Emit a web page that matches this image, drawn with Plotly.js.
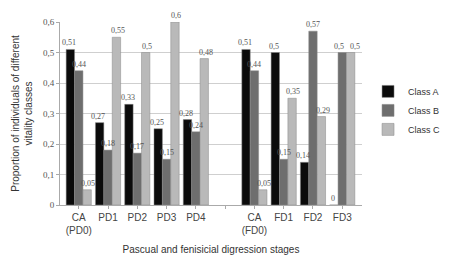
<!DOCTYPE html>
<html><head><meta charset="utf-8">
<script src="https://cdn.plot.ly/plotly-3.0.1.min.js"></script>
<style>html,body{margin:0;padding:0;background:#fff;}#chart{width:458px;height:261px;}</style>
</head><body><div id="chart"></div>
<script>
const categories = ["CA<br>(PD0)", "PD1", "PD2", "PD3", "PD4", " ", "CA<br>(FD0)", "FD1", "FD2", "FD3"];
const classA = [0.51, 0.27, 0.33, 0.25, 0.28, null, 0.51, 0.50, 0.14, 0.00];
const classB = [0.44, 0.18, 0.17, 0.15, 0.24, null, 0.44, 0.15, 0.57, 0.50];
const classC = [0.05, 0.55, 0.50, 0.60, 0.48, null, 0.05, 0.35, 0.29, 0.50];
const seriesNames = ["Class A", "Class B", "Class C"];
const colors = ["#0b0b0b", "#6e6e6e", "#b9b9b9"];

const W = 458, H = 261, ML = 60, MR = 58, BARGAP = 0.14;
const series = [classA, classB, classC];

const traces = series.map((vals, i) => ({
  type: 'bar', name: seriesNames[i], x: categories, y: vals,
  marker: {color: colors[i], line: {color: '#888', width: 0.5}}
}));

// data labels as annotations placed via the axes' own scales
const slot = (W - ML - MR) / categories.length;
const barW = slot * (1 - BARGAP) / 3;
const annotations = [];
series.forEach((vals, i) => {
  vals.forEach((v, j) => {
    if (v === null) return;
    let shift = (i - 1) * barW;
    if (i > 0 && series[i-1][j] !== null && Math.abs(series[i-1][j] - v) < 0.03) shift += 3;
    if (i < 2 && series[i+1][j] !== null && Math.abs(series[i+1][j] - v) < 0.03) shift -= 3;
    annotations.push({
      x: categories[j], y: v, xref: 'x', yref: 'y', text: String(v).replace('.', ','),
      showarrow: false, xanchor: 'center', yanchor: 'bottom', xshift: shift, yshift: 0,
      font: {family: 'Liberation Serif', size: 8, color: '#555'}
    });
  });
});

const layout = {
  width: W, height: H,
  margin: {l: ML, r: MR, t: 22, b: 56},
  paper_bgcolor: '#fff', plot_bgcolor: '#fff',
  separators: ',.',
  barmode: 'group', bargap: BARGAP, bargroupgap: 0,
  showlegend: true,
  annotations: annotations,
  legend: {x: 1.02, y: 0.7, xanchor: 'left', yanchor: 'top',
    font: {family: 'Liberation Sans', size: 9, color: '#333'}, itemwidth: 30, tracegroupgap: 2},
  xaxis: {
    type: 'category', showgrid: false, showline: true, linecolor: '#aaa', linewidth: 1,
    ticks: 'outside', ticklen: 3, tickcolor: '#aaa',
    tickfont: {family: 'Liberation Sans', size: 10, color: '#444'},
    title: {text: 'Pascual and fenisicial digression stages', font: {family: 'Liberation Sans', size: 10, color: '#333'}, standoff: 10}
  },
  yaxis: {
    range: [0, 0.6], dtick: 0.1, showgrid: true, gridcolor: '#cfcfcf', gridwidth: 1,
    showline: true, linecolor: '#aaa', ticks: 'outside', ticklen: 3, tickcolor: '#aaa',
    zeroline: false,
    tickfont: {family: 'Liberation Serif', size: 9, color: '#555'},
    title: {text: 'Proportion of individuals of different<br>vitality classes', font: {family: 'Liberation Sans', size: 10, color: '#333'}, standoff: 8}
  }
};

Plotly.newPlot('chart', traces, layout, {staticPlot: true, displayModeBar: false});
</script>
</body></html>
